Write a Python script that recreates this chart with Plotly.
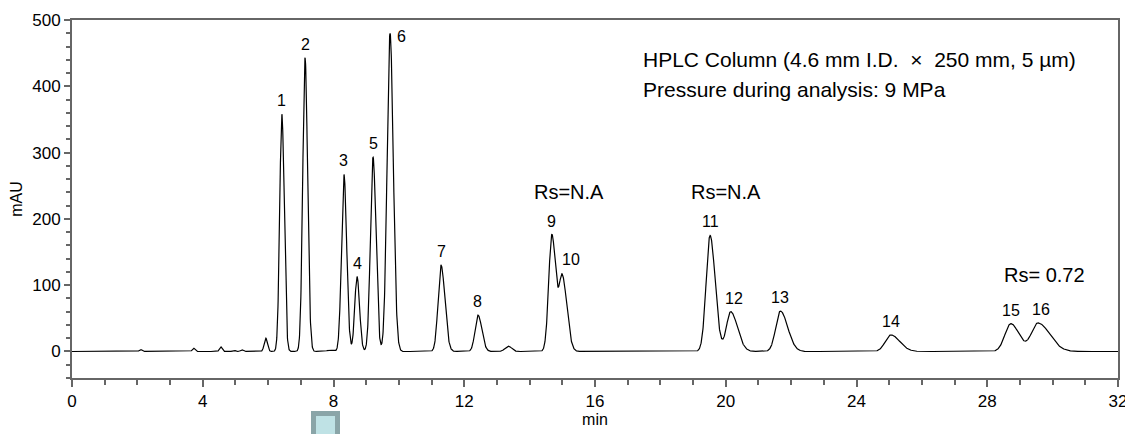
import numpy as np
import plotly.graph_objects as go

# Peak table (retention time in min, height in mAU)
peak_labels = ["1", "2", "3", "4", "5", "6", "7", "8", "9", "10",
               "11", "12", "13", "14", "15", "16"]
peak_rt = [6.42, 7.13, 8.32, 8.72, 9.21, 9.73, 11.29, 12.42, 14.68, 15.0,
           19.52, 20.15, 21.67, 25.05, 28.72, 29.55]
peak_height = [358, 443, 267, 113, 293, 480, 130, 55, 176, 112,
               175, 60, 61, 25, 42, 43]
peak_sigma = [0.065, 0.07, 0.075, 0.07, 0.08, 0.09, 0.09, 0.09, 0.095, 0.1,
              0.12, 0.13, 0.14, 0.17, 0.18, 0.2]
peak_tail = [1.1, 1.1, 1.1, 1.1, 1.1, 1.1, 1.3, 1.3, 1.25, 1.4,
             1.3, 1.6, 1.6, 1.6, 1.4, 1.8]

# Minor unlabeled peaks / baseline disturbances
minor_rt = [2.1, 3.72, 4.55, 4.95, 5.2, 5.93, 7.9, 13.35]
minor_height = [3, 5, 7, 2, 2.5, 20, 2, 8]
minor_sigma = [0.04, 0.04, 0.04, 0.04, 0.04, 0.05, 0.1, 0.1]

# Text annotations
rs_texts = ["Rs=N.A", "Rs=N.A", "Rs= 0.72"]
rs_x = [15.2, 20.0, 29.74]
rs_y = [241, 241, 115]
info_lines = ["HPLC Column (4.6 mm I.D.  \u00d7  250 mm, 5 \u00b5m)",
              "Pressure during analysis: 9 MPa"]
info_y = [440, 395]

x_ticks = [0, 4, 8, 12, 16, 20, 24, 28, 32]
y_ticks = [0, 100, 200, 300, 400, 500]

t = np.linspace(0, 32, 6400)
signal = np.zeros_like(t)
for rt, h, s, tf in zip(peak_rt, peak_height, peak_sigma, peak_tail):
    sig = np.where(t < rt, s, s * tf)
    signal += h * np.exp(-0.5 * ((t - rt) / sig) ** 2)
for rt, h, s in zip(minor_rt, minor_height, minor_sigma):
    signal += h * np.exp(-0.5 * ((t - rt) / s) ** 2)

fig = go.Figure()
fig.add_trace(go.Scatter(x=t, y=signal, mode="lines",
                         line=dict(color="black", width=1.2),
                         hoverinfo="skip", showlegend=False))

font = "Liberation Sans, Arial, sans-serif"
ann = []
xshift = {"6": 11, "10": 9, "12": 3, "16": 3}
yshift = {"6": -14, "10": 7}
for lab, rt, h in zip(peak_labels, peak_rt, peak_height):
    ann.append(dict(x=rt, y=h, text=lab, showarrow=False, xref="x", yref="y",
                    yanchor="bottom", xshift=xshift.get(lab, 0),
                    yshift=yshift.get(lab, 3),
                    font=dict(family=font, size=16, color="black")))
for txt, x, y in zip(rs_texts, rs_x, rs_y):
    ann.append(dict(x=x, y=y, text=txt, showarrow=False, xref="x", yref="y",
                    font=dict(family=font, size=20, color="black")))
for txt, y in zip(info_lines, info_y):
    ann.append(dict(x=17.4, y=y, text=txt, showarrow=False,
                    xref="x", yref="y", xanchor="left",
                    font=dict(family=font, size=21, color="black")))

W, L, R, T, B = 1125, 72, 7, 20, 56
pw, ph = W - L - R, 434 - T - B
fig.update_layout(
    width=1125, height=434,
    margin=dict(l=L, r=R, t=T, b=B, autoexpand=False),
    plot_bgcolor="white", paper_bgcolor="white",
    font=dict(family=font, size=17, color="black"),
    annotations=ann,
    showlegend=False,
    shapes=[dict(type="rect", xref="paper", yref="paper",
                 x0=(313.5 - L) / pw, x1=(337.5 - L) / pw,
                 y0=(378 - 440) / ph, y1=(378 - 413.5) / ph,
                 fillcolor="#bfe2e5", line=dict(color="#8aa5a8", width=5))],
)
fig.update_xaxes(range=[0, 32], tickvals=x_ticks, ticks="outside", ticklen=7,
                 tickcolor="#666", tickwidth=1.5, showline=True,
                 linecolor="#666", linewidth=2, mirror=True,
                 showgrid=False, zeroline=False, automargin=False,
                 ticklabeloverflow="allow",
                 minor=dict(dtick=1, ticks="outside", ticklen=5,
                            tickcolor="#666", tickwidth=1.5),
                 title=dict(text="min", font=dict(size=16), standoff=2),
                 tickfont=dict(size=17))
fig.update_yaxes(range=[-40, 500], tickvals=y_ticks, ticks="outside", ticklen=6,
                 tickcolor="#666", tickwidth=1.5, showline=True,
                 linecolor="#666", linewidth=2, mirror=True,
                 showgrid=False, zeroline=False, automargin=False,
                 ticklabeloverflow="allow",
                 minor=dict(dtick=20, ticks="outside", ticklen=4,
                            tickcolor="#666", tickwidth=1.5),
                 title=dict(text="mAU", font=dict(size=16), standoff=6),
                 tickfont=dict(size=17))

fig.write_html("out.html", config={"displayModeBar": False},
               post_script="document.body.style.margin='0';"
                           "document.body.style.overflow='hidden';")
